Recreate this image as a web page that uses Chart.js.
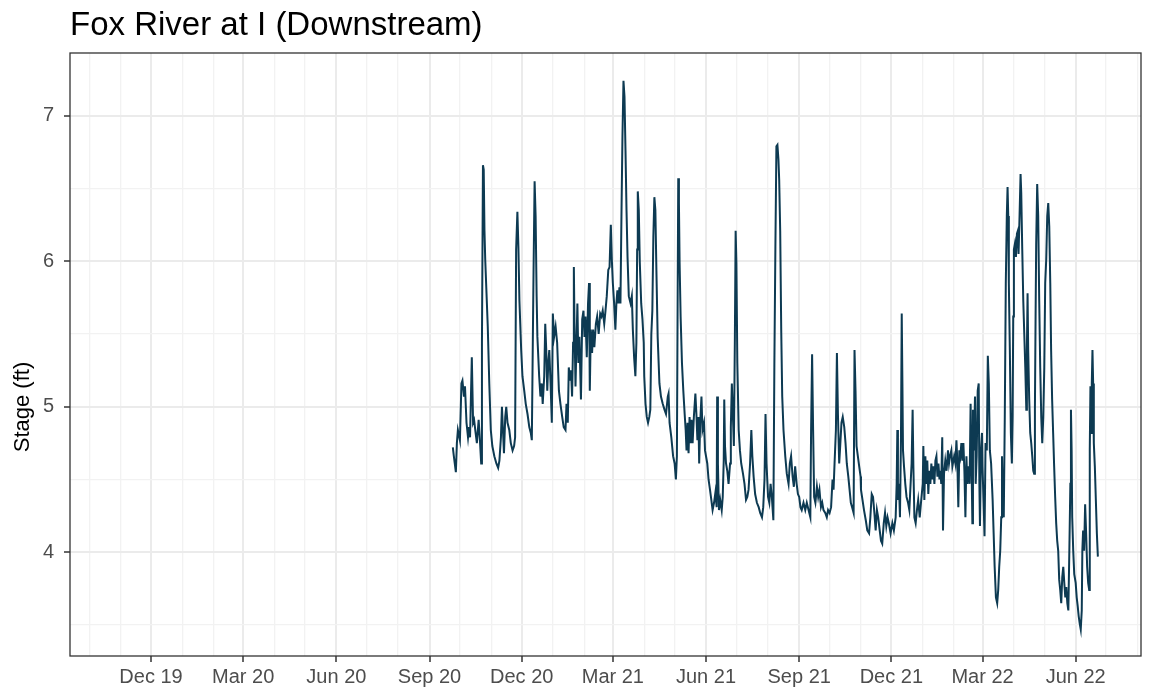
<!DOCTYPE html>
<html>
<head>
<meta charset="utf-8">
<script src="https://cdn.jsdelivr.net/npm/chart.js@4.4.1/dist/chart.umd.min.js"></script>
<style>
html,body{margin:0;padding:0;background:#ffffff;}
canvas{display:block;}
</style>
</head>
<body>
<canvas id="c" width="1150" height="694" style="width:1150px;height:694px"></canvas>
<script>
// ---- data ----
const dates = [
  '2020-09-24','2020-09-25','2020-09-27','2020-09-28','2020-09-29',
  '2020-10-01','2020-10-02 12','2020-10-03 12','2020-10-05','2020-10-06','2020-10-07 12','2020-10-09','2020-10-10','2020-10-11','2020-10-12 18','2020-10-14','2020-10-15','2020-10-16 12','2020-10-17 18','2020-10-19 12','2020-10-20 18','2020-10-22','2020-10-22 18','2020-10-23 18','2020-10-24 12','2020-10-25 06','2020-10-26','2020-10-27 06','2020-10-28 12','2020-10-30','2020-10-31 12',
  '2020-11-02','2020-11-04','2020-11-06','2020-11-07 18','2020-11-09','2020-11-10 12','2020-11-11 12','2020-11-12 12','2020-11-13 12','2020-11-14 18','2020-11-15 18','2020-11-17','2020-11-18 18','2020-11-20 06','2020-11-22','2020-11-23 12','2020-11-24 12','2020-11-25 12','2020-11-26 18','2020-11-27 18','2020-11-28 18','2020-11-30 12',
  '2020-12-01 18','2020-12-03 12','2020-12-05','2020-12-06 18','2020-12-08 12','2020-12-10','2020-12-11','2020-12-12','2020-12-12 18','2020-12-13 18','2020-12-14 18','2020-12-15 18','2020-12-16 12','2020-12-18 06','2020-12-19 12','2020-12-20 18','2020-12-21 18','2020-12-23 06','2020-12-24 06','2020-12-25 06','2020-12-26 06','2020-12-27 06','2020-12-28 06','2020-12-29 12','2020-12-30 18','2020-12-31 18',
  '2021-01-02','2021-01-03 12','2021-01-05','2021-01-06 18','2021-01-08 06','2021-01-10','2021-01-11 12','2021-01-13 06','2021-01-14 06','2021-01-15 12','2021-01-16 12','2021-01-17 18','2021-01-18 18','2021-01-19 18','2021-01-20 18','2021-01-21 12','2021-01-22 03','2021-01-23 03','2021-01-24 03','2021-01-25','2021-01-26','2021-01-27','2021-01-28 12','2021-01-29 18','2021-01-31',
  '2021-02-01','2021-02-02','2021-02-03 06','2021-02-04 12','2021-02-05 12','2021-02-06 06','2021-02-07 06','2021-02-08 12','2021-02-09 12','2021-02-10 18','2021-02-12 06','2021-02-13 12','2021-02-15','2021-02-16 12','2021-02-17 18','2021-02-19','2021-02-20 12','2021-02-21 18','2021-02-23','2021-02-24 12','2021-02-25 18','2021-02-27','2021-02-28',
  '2021-03-01','2021-03-02 06','2021-03-03 12','2021-03-04 12','2021-03-05 12','2021-03-06 12','2021-03-07 12','2021-03-08 12','2021-03-09 12','2021-03-10 12','2021-03-11 12','2021-03-12 12','2021-03-13 12','2021-03-14 12','2021-03-15 12','2021-03-16 18','2021-03-18 12','2021-03-19 18','2021-03-20 18','2021-03-22','2021-03-23 06','2021-03-24 06','2021-03-25','2021-03-25 15','2021-03-26 15','2021-03-27 15','2021-03-29','2021-03-30 06','2021-03-31 12',
  '2021-04-01','2021-04-02 06','2021-04-03 12','2021-04-04 18','2021-04-06','2021-04-07','2021-04-08','2021-04-09','2021-04-10','2021-04-11','2021-04-12','2021-04-13','2021-04-14 06','2021-04-16','2021-04-17 12','2021-04-19 06','2021-04-21','2021-04-22 12','2021-04-24 06','2021-04-25','2021-04-26','2021-04-27 18','2021-04-29 12',
  '2021-05-01','2021-05-02 06','2021-05-03 06','2021-05-04','2021-05-04 14','2021-05-05 06','2021-05-05 22','2021-05-06 22','2021-05-08 06','2021-05-09 14','2021-05-10 22','2021-05-11 22','2021-05-12 18','2021-05-13 18','2021-05-14 18','2021-05-15 18','2021-05-16 18','2021-05-17 18','2021-05-18 18','2021-05-20','2021-05-21 12','2021-05-22 12','2021-05-23 12','2021-05-24 12','2021-05-25 06','2021-05-26 06','2021-05-27 12','2021-05-28 12','2021-05-30','2021-05-31',
  '2021-06-02 06','2021-06-03 12','2021-06-04 22','2021-06-06 06','2021-06-07 12','2021-06-08 22','2021-06-10 06','2021-06-11 12','2021-06-12','2021-06-12 18','2021-06-13 18','2021-06-15','2021-06-16 12','2021-06-17 12','2021-06-18 12','2021-06-19','2021-06-19 18','2021-06-20 18','2021-06-22','2021-06-23 06','2021-06-24 18','2021-06-25 12','2021-06-26 12','2021-06-27 12','2021-06-28 12','2021-06-29 12','2021-06-30 06',
  '2021-07-01','2021-07-01 22','2021-07-03 06','2021-07-04 12','2021-07-05 18','2021-07-07 12','2021-07-09','2021-07-10 12','2021-07-11 18','2021-07-13','2021-07-14 12','2021-07-15 18','2021-07-16 18','2021-07-18','2021-07-19 12','2021-07-21 06','2021-07-23','2021-07-24 12','2021-07-26 06','2021-07-27 12','2021-07-28 18','2021-07-29 18','2021-07-30 18',
  '2021-08-01 06','2021-08-02 12','2021-08-03 18','2021-08-05','2021-08-06 12','2021-08-07 12','2021-08-08 12','2021-08-09 12','2021-08-10 12','2021-08-11 12','2021-08-12 06','2021-08-13 06','2021-08-14 06','2021-08-15 06','2021-08-16 12','2021-08-18 06','2021-08-19 18','2021-08-21 12','2021-08-22 18','2021-08-24','2021-08-25 12','2021-08-26 18','2021-08-28','2021-08-29 12','2021-08-30 18',
  '2021-09-01','2021-09-02 06','2021-09-03 12','2021-09-05 06','2021-09-07','2021-09-08 12','2021-09-10 06','2021-09-12','2021-09-12 18','2021-09-13 18','2021-09-14 18','2021-09-15 18','2021-09-17','2021-09-18 12','2021-09-19 18','2021-09-21','2021-09-22 12','2021-09-23 18','2021-09-25','2021-09-26 18','2021-09-28 06','2021-09-29 12',
  '2021-10-01','2021-10-02 12','2021-10-03 22','2021-10-04 22','2021-10-05 22','2021-10-07 06','2021-10-08 06','2021-10-09 06','2021-10-10 12','2021-10-11 12','2021-10-12 18','2021-10-14','2021-10-15 12','2021-10-16 18','2021-10-18','2021-10-19 12','2021-10-20 18','2021-10-22','2021-10-23 06','2021-10-24 18','2021-10-25 15','2021-10-26 15','2021-10-27 15','2021-10-28 22','2021-10-30 06','2021-10-31 15',
  '2021-11-01','2021-11-02 12','2021-11-04','2021-11-05 18','2021-11-07 06','2021-11-09','2021-11-10 06','2021-11-11 15','2021-11-12 22','2021-11-14 06','2021-11-15 12','2021-11-16 18','2021-11-18','2021-11-19 12','2021-11-20 18','2021-11-22','2021-11-23 12','2021-11-24 18','2021-11-26','2021-11-27 06','2021-11-28 12','2021-11-30 06',
  '2021-12-02','2021-12-03 12','2021-12-05 06','2021-12-06 06','2021-12-06 22','2021-12-07 12','2021-12-08 12','2021-12-09 12','2021-12-10 12','2021-12-11 06','2021-12-11 22','2021-12-12 12','2021-12-13 12','2021-12-14 18','2021-12-16','2021-12-17 12','2021-12-18 18','2021-12-20','2021-12-21','2021-12-22','2021-12-22 18','2021-12-23 18','2021-12-25','2021-12-26 06','2021-12-27 12','2021-12-29','2021-12-30 06',
  '2022-01-01','2022-01-01 14','2022-01-02 14','2022-01-03 14','2022-01-04 12','2022-01-05 12','2022-01-06 12','2022-01-07 12','2022-01-08 12','2022-01-09 12','2022-01-10 12','2022-01-11 12','2022-01-12 12','2022-01-13 12','2022-01-14 12','2022-01-15 12','2022-01-16 12','2022-01-17 12','2022-01-18 12','2022-01-19 06','2022-01-20 06','2022-01-21','2022-01-22','2022-01-23 06','2022-01-24 12','2022-01-25 22','2022-01-26 22','2022-01-27 22','2022-01-29 06','2022-01-30 06',
  '2022-02-01','2022-02-02 06','2022-02-03 06','2022-02-04 03','2022-02-05 03','2022-02-06 03','2022-02-07 03','2022-02-08 03','2022-02-09 03','2022-02-10 03','2022-02-11 03','2022-02-12 03','2022-02-13 03','2022-02-14','2022-02-15','2022-02-16 06','2022-02-17 06','2022-02-18','2022-02-19','2022-02-19 14','2022-02-20 14','2022-02-21 14','2022-02-22 06','2022-02-23 06','2022-02-24 06','2022-02-25 06','2022-02-25 22','2022-02-26 12','2022-02-27 12','2022-02-28 12',
  '2022-03-01','2022-03-02','2022-03-03','2022-03-04','2022-03-05 06','2022-03-06 06','2022-03-07 06','2022-03-08 06','2022-03-09 12','2022-03-11','2022-03-12','2022-03-13','2022-03-14 06','2022-03-15 12','2022-03-16 12','2022-03-17 12','2022-03-18 12','2022-03-19 12','2022-03-20 06','2022-03-21','2022-03-22','2022-03-23','2022-03-24','2022-03-25','2022-03-25 18','2022-03-26 10','2022-03-27','2022-03-28','2022-03-29','2022-03-30','2022-03-30 18','2022-03-31 08',
  '2022-04-01','2022-04-02','2022-04-03','2022-04-04','2022-04-04 22','2022-04-05 14','2022-04-06 14','2022-04-07 14','2022-04-08 06','2022-04-09 06','2022-04-10 06','2022-04-11 06','2022-04-12 06','2022-04-13 06','2022-04-13 20','2022-04-14 12','2022-04-15 03','2022-04-16 03','2022-04-17 03','2022-04-18 03','2022-04-19 03','2022-04-20 03','2022-04-21','2022-04-21 18','2022-04-22 10','2022-04-23','2022-04-24','2022-04-25','2022-04-26','2022-04-27','2022-04-28','2022-04-29','2022-04-30',
  '2022-05-01','2022-05-01 22','2022-05-02 22','2022-05-03 22','2022-05-04 22','2022-05-05 22','2022-05-06 22','2022-05-07 18','2022-05-08 18','2022-05-09 18','2022-05-10 18','2022-05-11 18','2022-05-12 18','2022-05-13 18','2022-05-14 18','2022-05-15 18','2022-05-16 18','2022-05-17 18','2022-05-18 18','2022-05-19 18','2022-05-20 18','2022-05-21 18','2022-05-22 18','2022-05-23 18','2022-05-24 18','2022-05-25 18','2022-05-26 18','2022-05-27 08','2022-05-28','2022-05-28 14','2022-05-29 14','2022-05-30 14',
  '2022-06-01','2022-06-02','2022-06-03','2022-06-04','2022-06-05','2022-06-06','2022-06-07','2022-06-07 14','2022-06-08 08','2022-06-09 08','2022-06-10 08','2022-06-11 08','2022-06-12 08','2022-06-13 08','2022-06-14 08','2022-06-14 22','2022-06-15 14','2022-06-16 08','2022-06-16 22','2022-06-17 14','2022-06-18 06','2022-06-18 22','2022-06-19 22','2022-06-20 22','2022-06-21 22','2022-06-22 22'
];
const stage = [
  4.72,4.66,4.55,4.75,4.84,
  4.77,5.16,5.18,5.07,5.14,4.89,4.79,4.86,4.79,5.34,4.89,4.91,4.82,4.75,4.91,4.77,4.61,5.44,6.66,6.63,6.21,6.01,5.78,5.55,5.16,4.84,
  4.73,4.66,4.61,4.58,4.63,4.79,5.00,4.84,4.68,4.93,5.00,4.89,4.84,4.75,4.70,4.73,4.79,6.08,6.34,6.10,5.73,5.39,
  5.21,5.11,5.02,4.95,4.86,4.82,4.77,5.46,5.96,6.55,6.31,5.76,5.48,5.21,5.07,5.16,5.02,5.21,5.57,5.39,5.11,5.30,5.39,5.16,4.89,5.64,
  5.48,5.55,5.44,5.11,5.02,4.93,4.86,4.84,5.02,4.89,5.27,5.18,5.25,5.07,5.44,5.96,5.57,5.14,5.44,5.71,5.30,5.48,5.05,5.60,5.66,
  5.48,5.62,5.34,5.71,5.85,5.11,5.53,5.37,5.53,5.41,5.57,5.62,5.50,5.64,5.62,5.66,5.57,5.66,5.76,5.94,5.96,6.25,6.01,
  5.85,5.71,5.53,5.71,5.80,5.71,5.82,5.71,6.31,6.86,7.24,7.13,6.76,6.35,6.03,5.76,5.71,5.76,5.53,5.34,5.21,5.44,6.08,6.48,6.35,5.99,5.71,5.60,5.44,
  5.21,5.02,4.93,4.89,4.93,4.98,5.50,5.66,6.17,6.44,6.35,5.94,5.48,5.16,5.07,5.02,4.98,4.95,5.07,5.09,4.89,4.79,4.66,
  4.61,4.50,4.66,5.76,6.57,6.40,5.99,5.62,5.30,5.11,4.95,4.84,4.70,4.89,4.68,4.93,4.75,4.91,4.75,4.93,5.09,4.95,4.77,4.93,4.61,4.89,5.07,4.84,4.89,4.70,
  4.61,4.50,4.43,4.36,4.29,4.34,4.41,4.31,5.07,4.61,4.29,4.36,4.29,4.38,4.63,5.05,4.73,4.61,4.56,4.47,4.61,4.86,5.16,4.95,4.73,5.48,6.21,
  5.99,5.30,4.84,4.70,4.61,4.54,4.47,4.36,4.38,4.43,4.61,4.84,4.66,4.52,4.40,4.34,4.31,4.27,4.24,4.31,4.50,4.95,4.61,
  4.38,4.34,4.47,4.38,4.22,5.30,6.10,6.79,6.80,6.70,6.56,6.21,5.53,5.07,4.84,4.66,4.54,4.47,4.61,4.66,4.52,4.45,4.59,4.47,4.40,
  4.38,4.31,4.29,4.34,4.29,4.34,4.29,4.24,4.84,5.36,4.84,4.38,4.34,4.45,4.38,4.43,4.31,4.34,4.29,4.27,4.24,4.29,
  4.27,4.31,4.50,4.43,4.61,4.84,5.37,4.95,4.61,4.73,4.89,4.93,4.86,4.75,4.61,4.52,4.43,4.34,4.31,4.27,5.39,5.11,4.73,4.66,4.59,4.52,
  4.43,4.36,4.29,4.22,4.15,4.13,4.24,4.40,4.38,4.27,4.15,4.29,4.24,4.15,4.08,4.06,4.20,4.27,4.18,4.24,4.20,4.13,
  4.20,4.15,4.24,4.47,4.84,4.36,4.47,4.24,4.79,5.64,5.16,4.70,4.59,4.47,4.38,4.34,4.29,4.47,4.61,4.98,4.59,4.24,4.20,4.29,4.36,4.24,4.34,
  4.47,4.73,4.36,4.66,4.47,4.63,4.40,4.56,4.47,4.61,4.50,4.59,4.47,4.63,4.66,4.52,4.61,4.50,4.56,4.47,4.79,4.15,4.54,4.63,4.56,4.70,4.61,4.66,4.70,4.59,
  4.66,4.61,4.77,4.63,4.31,4.70,4.66,4.75,4.63,4.75,4.56,4.24,4.66,4.47,4.59,4.47,5.02,4.70,4.20,4.98,4.70,5.07,4.47,4.66,5.11,5.16,4.47,4.18,4.70,4.82,
  4.59,4.36,4.11,4.75,4.70,5.35,5.16,4.70,4.61,4.36,4.13,3.90,3.69,3.65,3.74,3.90,4.01,4.24,4.66,4.36,4.24,4.93,5.85,6.31,6.51,6.31,5.85,5.39,4.82,4.61,4.93,5.62,
  6.08,6.12,6.03,6.19,6.21,6.05,6.31,6.60,6.47,6.08,5.73,5.50,5.27,4.98,5.39,5.78,5.39,5.05,4.82,4.75,4.66,4.56,4.54,4.98,5.62,6.12,6.53,6.31,5.73,5.27,4.93,4.75,4.93,
  5.27,5.85,6.01,6.31,6.40,6.24,5.85,5.39,5.05,4.82,4.59,4.38,4.20,4.08,4.01,3.81,3.74,3.65,3.83,3.90,3.79,3.69,3.76,3.65,3.60,4.01,4.47,4.98,4.70,4.24,4.01,3.85,
  3.79,3.69,3.63,3.56,3.51,3.47,3.60,4.01,4.15,4.01,4.33,4.13,3.90,3.79,3.74,4.70,5.14,4.82,5.16,5.39,5.16,4.75,4.59,4.36,4.13,3.97
];

const xTickDates  = ['2019-12-01','2020-03-01','2020-06-01','2020-09-01','2020-12-01','2021-03-01','2021-06-01','2021-09-01','2021-12-01','2022-03-01','2022-06-01'];
const xTickLabels = ['Dec 19','Mar 20','Jun 20','Sep 20','Dec 20','Mar 21','Jun 21','Sep 21','Dec 21','Mar 22','Jun 22'];
const xMinorDates = ['2019-10-01','2019-11-01','2020-01-01','2020-02-01','2020-04-01','2020-05-01','2020-07-01','2020-08-01','2020-10-01','2020-11-01','2021-01-01','2021-02-01','2021-04-01','2021-05-01','2021-07-01','2021-08-01','2021-10-01','2021-11-01','2022-01-01','2022-02-01','2022-04-01','2022-05-01','2022-07-01','2022-08-01'];
const xRange = ['2019-09-12','2022-08-04 12'];
const yTicks = [4, 5, 6, 7];
const yMinorTicks = [3.5, 4.5, 5.5, 6.5];
const yRange = [3.287, 7.431];

const chartTitle = 'Fox River at I (Downstream)';
const yTitle = 'Stage (ft)';

// ---- helpers ----
function toMs(s) {
  const m = s.match(/^(\d+)-(\d+)-(\d+)(?:\s+(\d+))?/);
  return Date.UTC(+m[1], +m[2] - 1, +m[3], m[4] ? +m[4] : 0);
}
const xTickMs = xTickDates.map(toMs);
const xMinorMs = xMinorDates.map(toMs);
const points = dates.map((d, i) => ({ x: toMs(d), y: stage[i] }));

const FONT = '"Liberation Sans", Arial, Helvetica, sans-serif';
const GRID = '#EBEBEB';
const GRID_MINOR = '#F2F2F2';

const panelBorder = {
  id: 'panelBorder',
  afterDatasetsDraw(chart) {
    const { ctx, chartArea: a } = chart;
    ctx.save();
    ctx.strokeStyle = '#333333';
    ctx.lineWidth = 1.3;
    ctx.strokeRect(a.left, a.top, a.right - a.left, a.bottom - a.top);
    ctx.restore();
  }
};

// y axis title, placed where the reference has it
const yAxisTitle = {
  id: 'yAxisTitle',
  afterDraw(chart) {
    const { ctx } = chart;
    ctx.save();
    ctx.translate(23, 407);
    ctx.rotate(-Math.PI / 2);
    ctx.fillStyle = '#000000';
    ctx.font = '22px ' + FONT;
    ctx.textAlign = 'center';
    ctx.textBaseline = 'middle';
    ctx.fillText(yTitle, 0, 0);
    ctx.restore();
  }
};

new Chart(document.getElementById('c'), {
  type: 'line',
  data: {
    datasets: [{
      data: points,
      borderColor: '#0d3a52',
      borderWidth: 2,
      pointRadius: 0,
      tension: 0,
      fill: false
    }]
  },
  options: {
    responsive: false,
    animation: false,
    devicePixelRatio: 1,
    layout: { padding: { left: 0, right: 9, top: 0, bottom: 0 } },
    plugins: {
      legend: { display: false },
      tooltip: { enabled: false },
      title: {
        display: true,
        text: chartTitle,
        align: 'start',
        fullSize: false,
        color: '#000000',
        font: { family: FONT, size: 33, weight: 'normal', lineHeight: 1.2 },
        padding: { top: 6, bottom: 7.4 }
      }
    },
    scales: {
      x: {
        type: 'linear',
        min: toMs(xRange[0]),
        max: toMs(xRange[1]),
        afterBuildTicks(scale) {
          const all = xTickMs.concat(xMinorMs).filter(v => v >= scale.min && v <= scale.max).sort((a, b) => a - b);
          scale.ticks = all.map(v => ({ value: v }));
        },
        afterFit(scale) { scale.height = 38; },
        ticks: {
          autoSkip: false,
          maxRotation: 0,
          minRotation: 0,
          padding: 3,
          color: '#4D4D4D',
          font: { family: FONT, size: 20 },
          callback(value) {
            const i = xTickMs.indexOf(value);
            return i >= 0 ? xTickLabels[i] : '';
          }
        },
        grid: {
          color: ctx => xTickMs.includes(ctx.tick.value) ? GRID : GRID_MINOR,
          lineWidth: ctx => xTickMs.includes(ctx.tick.value) ? 2 : 1.3,
          tickColor: ctx => xTickMs.includes(ctx.tick.value) ? '#333333' : 'rgba(0,0,0,0)',
          tickWidth: 1.5,
          tickLength: 6,
          drawTicks: true
        },
        border: { display: false }
      },
      y: {
        type: 'linear',
        min: yRange[0],
        max: yRange[1],
        afterBuildTicks(scale) {
          const all = yTicks.concat(yMinorTicks).sort((a, b) => a - b);
          scale.ticks = all.map(v => ({ value: v }));
        },
        afterFit(scale) { scale.width = 70; },
        ticks: {
          autoSkip: false,
          padding: 10,
          color: '#4D4D4D',
          font: { family: FONT, size: 20 },
          callback(value) {
            return yTicks.includes(value) ? String(value) : '';
          }
        },
        grid: {
          color: ctx => yTicks.includes(ctx.tick.value) ? GRID : GRID_MINOR,
          lineWidth: ctx => yTicks.includes(ctx.tick.value) ? 2 : 1.3,
          tickColor: ctx => yTicks.includes(ctx.tick.value) ? '#333333' : 'rgba(0,0,0,0)',
          tickWidth: 1.5,
          tickLength: 6,
          drawTicks: true
        },
        border: { display: false }
      }
    }
  },
  plugins: [panelBorder, yAxisTitle]
});
</script>
</body>
</html>
